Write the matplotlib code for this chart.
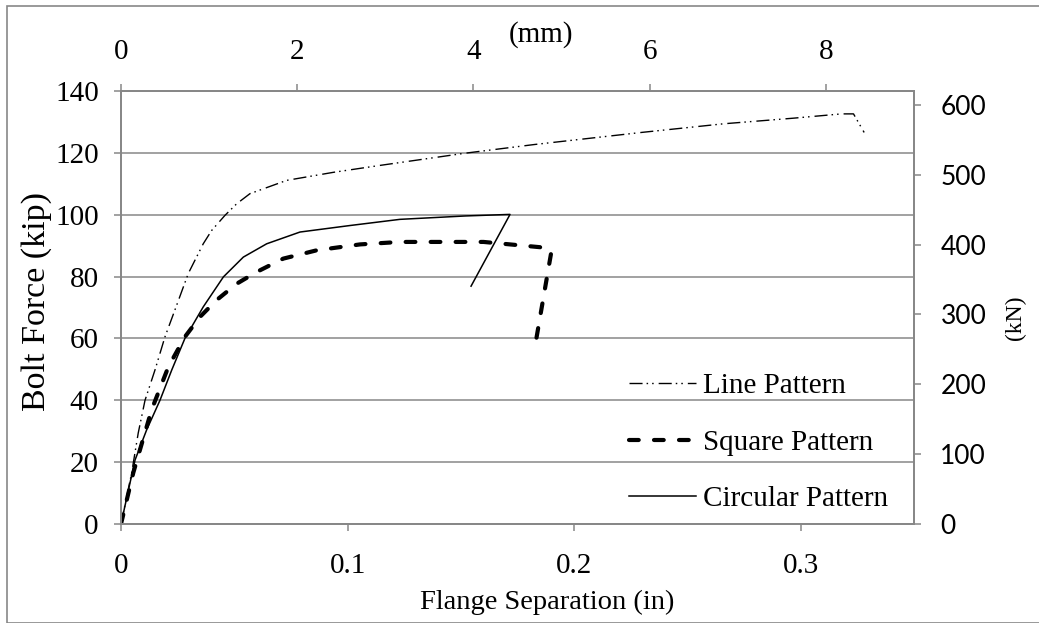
import matplotlib
matplotlib.use('Agg')
import matplotlib.pyplot as plt
from matplotlib.patches import Rectangle

# ---- data (flange separation in inches, bolt force in kip) ----
line_x = [0, 0.0047, 0.0076, 0.0106, 0.015, 0.0194, 0.0243, 0.0297, 0.0363, 0.04,
          0.0459, 0.051, 0.0569, 0.0731, 0.0937, 0.1139, 0.152, 0.1825, 0.2297,
          0.266, 0.2966, 0.318, 0.3233, 0.328]
line_y = [0, 16.5, 29.4, 40.0, 49.8, 60.5, 70.2, 81.0, 90.6, 94.9,
          99.8, 103.5, 106.8, 111.1, 113.7, 115.9, 119.9, 122.7, 126.6,
          129.4, 131.2, 132.6, 132.6, 126.6]

square_x = [0, 0.0054, 0.0135, 0.0209, 0.0282, 0.0349, 0.0422, 0.0511, 0.0599,
            0.0716, 0.0864, 0.1055, 0.1231, 0.16, 0.1717, 0.1849, 0.19, 0.1827]
square_y = [0, 16.5, 36.9, 50.8, 60.5, 67.0, 72.4, 77.7, 81.5,
            85.8, 88.5, 90.4, 91.2, 91.2, 90.4, 89.5, 88.3, 57.3]

circ_x = [0, 0.0062, 0.0113, 0.0172, 0.0224, 0.0282, 0.0363, 0.0452, 0.054, 0.0643,
          0.079, 0.101, 0.1231, 0.152, 0.1717, 0.1545]
circ_y = [0, 20.7, 30.4, 40.0, 49.8, 60.0, 70.2, 79.9, 86.3, 90.6,
          94.4, 96.5, 98.5, 99.6, 100.1, 76.9]

series_labels = ['Line Pattern', 'Square Pattern', 'Circular Pattern']
x_ticks_in = [0, 0.1, 0.2, 0.3]
x_ticklabels_in = ['0', '0.1', '0.2', '0.3']
x_ticks_mm = [0, 2, 4, 6, 8]
y_ticks_kip = [0, 20, 40, 60, 80, 100, 120, 140]
y_ticks_kn = [0, 100, 200, 300, 400, 500, 600]

plt.rcParams['font.family'] = ['Liberation Serif', 'DejaVu Serif']
plt.rcParams['lines.scale_dashes'] = False

W, H = 1039, 623
fig = plt.figure(figsize=(W / 100, H / 100), dpi=100)
L, R, T, B = 121, 914, 91, 524
ax = fig.add_axes([L / W, 1 - B / H, (R - L) / W, (B - T) / H])
gray = '#878787'
FS = 21

# chart-area border
fig.patches.append(Rectangle((7 / W, 0), 1.2, 1 - 6 / H, transform=fig.transFigure,
                             fill=False, edgecolor=gray, lw=1.2, zorder=0))

ax.set_xlim(0, 0.35)
ax.set_ylim(0, 140)
ax.set_xticks(x_ticks_in)
ax.set_xticklabels(x_ticklabels_in)
ax.set_yticks(y_ticks_kip)
ax.grid(axis='y', color=gray, lw=1.1)
ax.set_axisbelow(True)
for s in ax.spines.values():
    s.set_color(gray)
    s.set_linewidth(1.1)
ax.tick_params(axis='x', direction='out', color=gray, length=5, width=1.1,
               labelsize=FS, pad=16)
ax.tick_params(axis='y', direction='out', color=gray, length=5, width=1.1,
               labelsize=FS, pad=11)

l1, = ax.plot(line_x, line_y, color='black', lw=1.0,
              linestyle=(0, (9.4, 2.9, 1.1, 2.9, 1.1, 3.6)))
l2, = ax.plot(square_x, square_y, color='black', lw=3.0,
              linestyle=(0, (7.0, 11.0)), dash_capstyle='round')
l3, = ax.plot(circ_x, circ_y, color='black', lw=1.1, linestyle='-')

# top axis (mm)
axt = ax.twiny()
axt.set_xlim(0, 9)
axt.set_xticks(x_ticks_mm)
axt.tick_params(axis='x', direction='out', color=gray, length=5, width=1.1,
                labelsize=FS, pad=14)
for s in axt.spines.values():
    s.set_color(gray)
    s.set_linewidth(1.1)

# right axis (kN)
axr = ax.twinx()
axr.set_ylim(0, 620)
axr.set_yticks(y_ticks_kn)
axr.tick_params(axis='y', direction='out', color=gray, length=5, width=1.1,
                labelsize=FS - 2, pad=14)
for lbl in axr.get_yticklabels():
    lbl.set_fontfamily(['Lato', 'DejaVu Sans'])
for s in axr.spines.values():
    s.set_color(gray)
    s.set_linewidth(1.1)

# axis titles
fig.text(37 / W, 1 - 302 / H, 'Bolt Force (kip)', rotation=90, ha='center',
         va='center', fontsize=24.5)
fig.text(547 / W, 1 - 602 / H, 'Flange Separation (in)', ha='center',
         va='center', fontsize=20.5)
fig.text(1015 / W, 1 - 318 / H, '(kN)', rotation=90, ha='center',
         va='center', fontsize=17)
fig.text(541 / W, 1 - 35 / H, '(mm)', ha='center', va='center', fontsize=21)

leg = ax.legend([l1, l2, l3], series_labels, loc='upper left',
                bbox_to_anchor=(629 / W, 1 - 373 / H), bbox_transform=fig.transFigure,
                frameon=False, fontsize=FS, borderpad=0, borderaxespad=0,
                handlelength=2.3, handletextpad=0.25, labelspacing=1.03)
leg.set_zorder(5)

fig.savefig('out.png', dpi=100)
